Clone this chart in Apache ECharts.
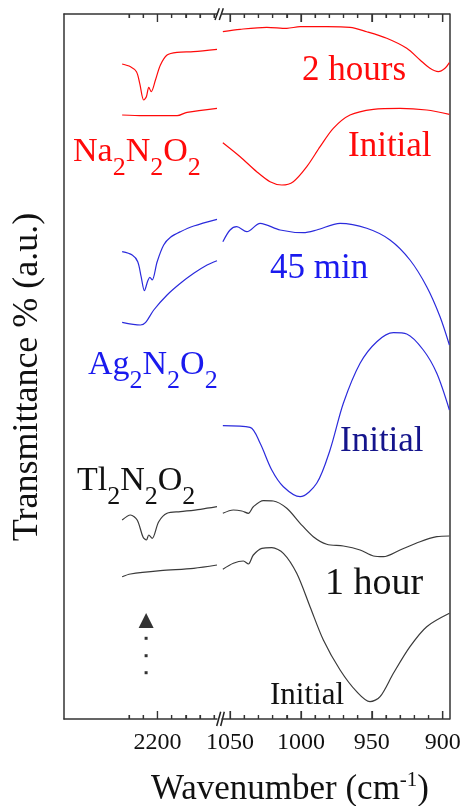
<!DOCTYPE html>
<html><head><meta charset="utf-8">
<script src="https://cdn.jsdelivr.net/npm/echarts@6/dist/echarts.min.js"></script>
<style>html,body{margin:0;padding:0;background:#fff}#c{width:464px;height:806px}</style>
</head><body><div id="c"></div>
<script>
// ---------- tick values ----------
const leftMajorTicks = [2200];
const leftMinorTicks = [2220, 2210, 2190, 2180, 2170, 2160];
const rightMajorTicks = [1050, 1000, 950, 900];
const rightMinorTicks = [1040, 1030, 1020, 1010, 990, 980, 970, 960, 940, 930, 920, 910];

// ---------- Na2N2O2 (red) ----------
const naHoursL_wn = [2224.9, 2219.0, 2214.8, 2212.5, 2209.7, 2207.8, 2206.1, 2204.4, 2201.4, 2197.9, 2193.2, 2186.1, 2174.6, 2158];
const naHoursL_T  = [65.5, 65.23, 64.73, 63.57, 61.9, 62.23, 63.17, 62.73, 63.9, 65.4, 66.4, 66.67, 66.73, 66.97];
const naInitL_wn = [2224.9, 2209.9, 2186.1, 2179.1, 2158];
const naInitL_T  = [60.4, 60.33, 60.33, 60.67, 61.07];
const naHoursR_wn = [1055.1, 1042.9, 1024.1, 1010.0, 1000.6, 981.8, 965.4, 953.6, 939.5, 925.4, 916.0, 909.0, 903.1, 898.4, 895.3];
const naHoursR_T  = [68.73, 68.97, 69.17, 69.07, 69.23, 69.23, 69.17, 68.73, 68.07, 67.07, 65.9, 65.07, 64.73, 65.07, 65.63];
const naInitR_wn = [1055.1, 1042.9, 1031.2, 1021.8, 1013.5, 1005.4, 995.9, 986.5, 977.2, 965.4, 948.9, 930.1, 911.3, 895.3];
const naInitR_T  = [57.63, 56.23, 54.73, 53.73, 53.4, 53.73, 55.23, 57.23, 59.07, 60.4, 60.97, 61.07, 60.9, 60.47];

// ---------- Ag2N2O2 (blue) ----------
const agMinL_wn = [2224.9, 2217.8, 2213.9, 2211.5, 2209.2, 2206.8, 2205.4, 2203.7, 2200.2, 2195.6, 2190.8, 2183.8, 2174.4, 2158];
const agMinL_T  = [46.73, 46.4, 45.73, 44.23, 42.83, 43.83, 44.17, 43.9, 45.73, 47.4, 48.17, 48.73, 49.3, 49.97];
const agInitL_wn = [2224.9, 2212.0, 2208.5, 2202.6, 2193.2, 2183.8, 2174.4, 2165.0, 2158];
const agInitL_T  = [39.67, 39.4, 39.63, 40.9, 42.4, 43.57, 44.57, 45.4, 45.83];
const agMinR_wn = [1055.1, 1050.0, 1045.3, 1038.2, 1028.8, 1014.7, 998.3, 988.9, 972.4, 953.6, 937.2, 923.1, 911.3, 901.9, 895.3];
const agMinR_T  = [47.73, 48.9, 49.23, 48.73, 49.57, 48.9, 48.63, 48.9, 49.57, 49.07, 47.9, 45.9, 43.23, 40.23, 37.4];
const agInitR_wn = [1055.1, 1035.9, 1028.8, 1020.6, 1012.4, 1000.6, 988.9, 979.5, 970.1, 958.3, 946.5, 934.8, 925.4, 913.7, 904.2, 895.3];
const agInitR_T  = [29.33, 29.17, 27.57, 24.9, 23.23, 22.23, 23.57, 26.9, 31.57, 35.57, 37.73, 38.63, 38.5, 36.9, 34.57, 30.9];

// ---------- Tl2N2O2 (black) ----------
const tlHourL_wn = [2224.9, 2219.0, 2214.3, 2210.1, 2207.8, 2206.1, 2203.7, 2199.1, 2193.2, 2183.8, 2169.7, 2158];
const tlHourL_T  = [19.9, 20.4, 19.9, 18.17, 17.9, 18.4, 18.07, 19.73, 20.57, 20.73, 20.97, 21.23];
const tlInitL_wn = [2224.9, 2219.0, 2197.9, 2174.4, 2158];
const tlInitL_T  = [14.23, 14.5, 14.83, 15.07, 15.4];
const tlHourR_wn = [1055.1, 1047.7, 1041.7, 1037.1, 1033.6, 1026.5, 1019.5, 1010.0, 1000.6, 991.3, 981.8, 970.1, 958.3, 948.9, 941.9, 930.1, 916.0, 904.2, 895.3];
const tlHourR_T  = [20.57, 20.9, 20.8, 20.57, 21.23, 21.83, 21.8, 21.07, 19.57, 18.23, 17.47, 17.3, 16.9, 16.3, 16.23, 16.9, 17.73, 18.23, 18.3];
const tlInitR_wn = [1055.1, 1047.7, 1040.6, 1037.1, 1033.6, 1027.6, 1020.6, 1012.4, 1003.0, 993.6, 984.2, 972.4, 960.7, 951.3, 944.2, 934.8, 923.1, 911.3, 895.3];
const tlInitR_T  = [14.97, 15.57, 15.8, 15.5, 16.4, 17.07, 17.13, 16.57, 14.57, 11.23, 7.9, 4.9, 2.73, 1.73, 2.23, 4.57, 7.23, 9.23, 10.57];

// ---------- arrow marker ----------
const markerWn = 2208;
const markerArrowT = 9.85;
const markerDotsT = [8.07, 6.33, 4.63];

// ---------- layout / style ----------
const FONT = '"Liberation Serif","Times New Roman",serif';
const AX = '#333';
const RED = '#ff0a0a', BLUE = '#2b2bdc', BLUE_T = '#1a1aee', NAVY = '#15158c', BLK = '#3a3a3a', TXT = '#111';
const leftRange = [2158, 2265.9], rightRange = [895.3, 1055.7];
const yRange = [0, 70.5];
const GRIDS = [{ left: 64, top: 14, width: 153, height: 705 }, { left: 222, top: 14, width: 227.4, height: 705 }];

const zip = (a, b) => a.map((v, i) => [v, b[i]]);

function xAx(g, pos, major) {
  const rng = g === 0 ? leftRange : rightRange;
  const ticks = g === 0 ? (major ? leftMajorTicks : leftMinorTicks) : (major ? rightMajorTicks : rightMinorTicks);
  const showLab = major && pos === 'bottom';
  return {
    type: 'value', gridIndex: g, position: pos, min: rng[0], max: rng[1], inverse: true,
    axisLine: { show: major, onZero: false, lineStyle: { color: AX, width: 1.5 } },
    axisTick: { show: true, inside: true, length: major ? 8 : 4, customValues: ticks, lineStyle: { color: AX, width: 1.2 } },
    axisLabel: showLab ? { show: true, customValues: ticks, fontSize: 24, fontFamily: FONT, color: TXT, margin: 12, formatter: v => String(v) } : { show: false },
    splitLine: { show: false }
  };
}
const xAxes = [];
[0, 1].forEach(g => { xAxes.push(xAx(g, 'bottom', true), xAx(g, 'bottom', false), xAx(g, 'top', true), xAx(g, 'top', false)); });

function yAx(g) {
  return { type: 'value', gridIndex: g, position: g === 0 ? 'left' : 'right', min: yRange[0], max: yRange[1],
    axisLine: { show: true, onZero: false, lineStyle: { color: AX, width: 1.5 } },
    axisTick: { show: false }, axisLabel: { show: false }, splitLine: { show: false } };
}

function line(wn, t, g, color) {
  return { type: 'line', xAxisIndex: g === 0 ? 0 : 4, yAxisIndex: g, data: zip(wn, t), showSymbol: false, symbol: 'none',
    smooth: 0.3, lineStyle: { color: color, width: 1.2 }, itemStyle: { color: color }, silent: true };
}

const series = [
  line(naHoursL_wn, naHoursL_T, 0, RED), line(naInitL_wn, naInitL_T, 0, RED),
  line(naHoursR_wn, naHoursR_T, 1, RED), line(naInitR_wn, naInitR_T, 1, RED),
  line(agMinL_wn, agMinL_T, 0, BLUE), line(agInitL_wn, agInitL_T, 0, BLUE),
  line(agMinR_wn, agMinR_T, 1, BLUE), line(agInitR_wn, agInitR_T, 1, BLUE),
  line(tlHourL_wn, tlHourL_T, 0, BLK), line(tlInitL_wn, tlInitL_T, 0, BLK),
  line(tlHourR_wn, tlHourR_T, 1, BLK), line(tlInitR_wn, tlInitR_T, 1, BLK),
  { type: 'scatter', xAxisIndex: 0, yAxisIndex: 0, data: [[markerWn, markerArrowT]], symbol: 'triangle', symbolSize: [15, 15], itemStyle: { color: '#000' }, silent: true },
  { type: 'scatter', xAxisIndex: 0, yAxisIndex: 0, data: markerDotsT.map(v => [markerWn, v]), symbol: 'rect', symbolSize: 3, itemStyle: { color: '#000' }, silent: true }
];

// ---------- text helpers ----------
const ctx = document.createElement('canvas').getContext('2d');
function mw(t, s) { ctx.font = s + 'px ' + FONT; return ctx.measureText(t).width; }
function midOff(s) {
  ctx.font = s + 'px ' + FONT; const m = ctx.measureText('Hg');
  if (m.fontBoundingBoxAscent) return (m.fontBoundingBoxAscent - m.fontBoundingBoxDescent) / 2;
  return 0.3375 * s;
}
function rtext(parts, x, base, color, align) {
  const ws = parts.map(p => mw(p[0], p[1]));
  const tot = ws.reduce((a, b) => a + b, 0);
  let cx = align === 'center' ? x - tot / 2 : x;
  return parts.map((p, i) => {
    const el = { type: 'text', x: cx, y: base + p[2] - midOff(p[1]), silent: true, z: 100,
      style: { text: p[0], font: p[1] + 'px ' + FONT, fill: color, textAlign: 'left', textVerticalAlign: 'middle', align: 'left', verticalAlign: 'middle' } };
    cx += ws[i]; return el;
  });
}
const chem = (a, b, c, x, base, color) => rtext([[a, 34, 0], ['2', 26, 13.5], [b, 34, 0], ['2', 26, 13.5], [c, 34, 0], ['2', 26, 13.5]], x, base, color);

const graphics = [].concat(
  rtext([['2 hours', 35, 0]], 302, 82, RED),
  rtext([['Initial', 35, 0]], 348, 158, RED),
  chem('Na', 'N', 'O', 73, 163.5, RED),
  rtext([['45 min', 35, 0]], 270, 280, BLUE_T),
  chem('Ag', 'N', 'O', 88, 376.5, BLUE_T),
  rtext([['Initial', 35, 0]], 340, 453, NAVY),
  chem('Tl', 'N', 'O', 77, 492.5, TXT),
  rtext([['1 hour', 38, 0]], 325, 597.5, TXT),
  rtext([['Initial', 31, 0]], 270, 706, TXT),
  rtext([['Wavenumber (cm', 35, 0], ['-1', 21, -14], [')', 35, 0]], 290, 801, TXT, 'center'),
  [{ type: 'text', x: 28, y: 377, rotation: Math.PI / 2, silent: true,
     style: { text: 'Transmittance % (a.u.)', font: '36px ' + FONT, fill: TXT, textAlign: 'center', textVerticalAlign: 'middle', align: 'center', verticalAlign: 'middle' } }],
  [
    { type: 'line', shape: { x1: 215, y1: 20, x2: 219.3, y2: 8.3 }, style: { stroke: '#222', lineWidth: 1.5 }, silent: true },
    { type: 'line', shape: { x1: 219.3, y1: 20, x2: 223.3, y2: 8.3 }, style: { stroke: '#222', lineWidth: 1.5 }, silent: true },
    { type: 'line', shape: { x1: 216.7, y1: 726, x2: 220.7, y2: 711.7 }, style: { stroke: '#222', lineWidth: 1.5 }, silent: true },
    { type: 'line', shape: { x1: 220.7, y1: 726, x2: 224.3, y2: 711.7 }, style: { stroke: '#222', lineWidth: 1.5 }, silent: true }
  ]
);

const chart = echarts.init(document.getElementById('c'), null, { renderer: 'canvas' });
chart.setOption({
  animation: false,
  backgroundColor: '#fff',
  grid: GRIDS,
  xAxis: xAxes,
  yAxis: [yAx(0), yAx(1)],
  series: series,
  graphic: graphics
});

// Tick marks placed through the axes' own scale (convertToPixel), top and bottom, inward
const tickEls = [];
function addTicks(axisIdx, g, values, len) {
  const top = GRIDS[g].top, bot = GRIDS[g].top + GRIDS[g].height;
  values.forEach(v => {
    const px = chart.convertToPixel({ xAxisIndex: axisIdx }, v);
    if (px == null || isNaN(px)) return;
    tickEls.push({ type: 'line', silent: true, z: 50, shape: { x1: px, y1: top, x2: px, y2: top + len }, style: { stroke: AX, lineWidth: 1.2 } });
    tickEls.push({ type: 'line', silent: true, z: 50, shape: { x1: px, y1: bot, x2: px, y2: bot - len }, style: { stroke: AX, lineWidth: 1.2 } });
  });
}
addTicks(0, 0, leftMajorTicks, 8);
addTicks(0, 0, leftMinorTicks, 4);
addTicks(4, 1, rightMajorTicks, 8);
addTicks(4, 1, rightMinorTicks, 4);
chart.setOption({ graphic: graphics.concat(tickEls) });
</script></body></html>
